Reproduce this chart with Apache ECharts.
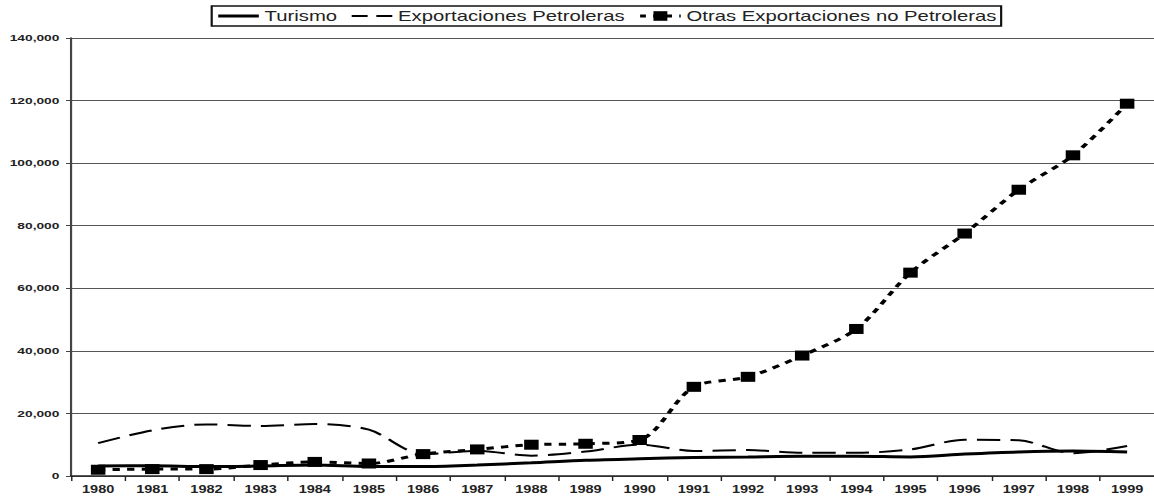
<!DOCTYPE html>
<html><head><meta charset="utf-8">
<script src="https://cdn.jsdelivr.net/npm/echarts@6/dist/echarts.min.js"></script>
<style>
html,body{margin:0;padding:0;background:#fff;overflow:hidden;width:1154px;height:500px}
#c{width:796px;height:500px;transform:scaleX(1.45);transform-origin:0 0}
</style>
</head><body><div id="c"></div>
<script>
const years = ['1980','1981','1982','1983','1984','1985','1986','1987','1988','1989','1990','1991','1992','1993','1994','1995','1996','1997','1998','1999'];
const turismo = [3200,3300,3000,3200,3500,3000,3000,3500,4200,5000,5500,5900,6100,6300,6300,6100,7000,7700,8000,7700];
const petroleras = [10500,14600,16500,16000,16600,14800,7000,8000,6500,7800,10000,8000,8300,7400,7400,8500,11600,11400,7300,9600];
const otras = [2000,2200,2200,3500,4500,4000,7000,8500,10000,10300,11500,28500,31700,38500,47000,65000,77500,91500,102500,119000];
const yTicks = [0,20000,40000,60000,80000,100000,120000,140000];

const chart = echarts.init(document.getElementById('c'), null, {renderer:'svg'});
const font = 'Liberation Sans, Arial, sans-serif';
chart.setOption({
  animation:false,
  backgroundColor:'#fff',
  textStyle:{fontFamily:font},
  legend:{
    top:6, left:146,
    itemWidth:28, itemHeight:12, itemGap:9,
    padding:[3,3,3,3],
    borderColor:'#111', borderWidth:1.5, borderRadius:0,
    textStyle:{fontSize:14, color:'#222', fontFamily:font, padding:[0,0,0,-1]},
    data:[
      {name:'Turismo', itemStyle:{opacity:0}, lineStyle:{type:'solid', width:3, color:'#000'}},
      {name:'Exportaciones Petroleras', itemStyle:{opacity:0}, lineStyle:{type:[11,6], width:2, color:'#000'}},
      {name:'Otras Exportaciones no Petroleras', lineStyle:{type:[4,5], width:3, color:'#000'}}
    ]
  },
  grid:{left:49, top:38, width:753, bottom:24, containLabel:false},
  xAxis:{
    type:'category', data:years, boundaryGap:true,
    axisLine:{lineStyle:{color:'#222', width:1.5}},
    axisTick:{show:true, alignWithLabel:false, length:5, lineStyle:{color:'#222'}},
    axisLabel:{fontSize:10, fontWeight:'bold', color:'#222', margin:9, interval:0}
  },
  yAxis:{
    type:'value', min:0, max:140000, interval:20000,
    axisLine:{show:true, lineStyle:{color:'#444', width:1.5}},
    axisTick:{show:true, length:3.5, lineStyle:{color:'#444'}},
    axisLabel:{fontSize:9.5, fontWeight:'bold', color:'#222', margin:8,
      formatter:v=>v.toLocaleString('en-US')},
    splitLine:{lineStyle:{color:'#555', width:1}}
  },
  series:[
    {name:'Turismo', type:'line', data:turismo, smooth:0.3, symbol:'none',
      lineStyle:{color:'#000', width:3}, itemStyle:{color:'#000'}},
    {name:'Exportaciones Petroleras', type:'line', data:petroleras, smooth:0.3, symbol:'none',
      lineStyle:{color:'#000', width:2, type:[16,7]}, itemStyle:{color:'#000'}},
    {name:'Otras Exportaciones no Petroleras', type:'line', data:otras, smooth:0.3,
      symbol:'rect', symbolSize:10,
      lineStyle:{color:'#000', width:3, type:[5,5]}, itemStyle:{color:'#000'}}
  ]
});
</script></body></html>
